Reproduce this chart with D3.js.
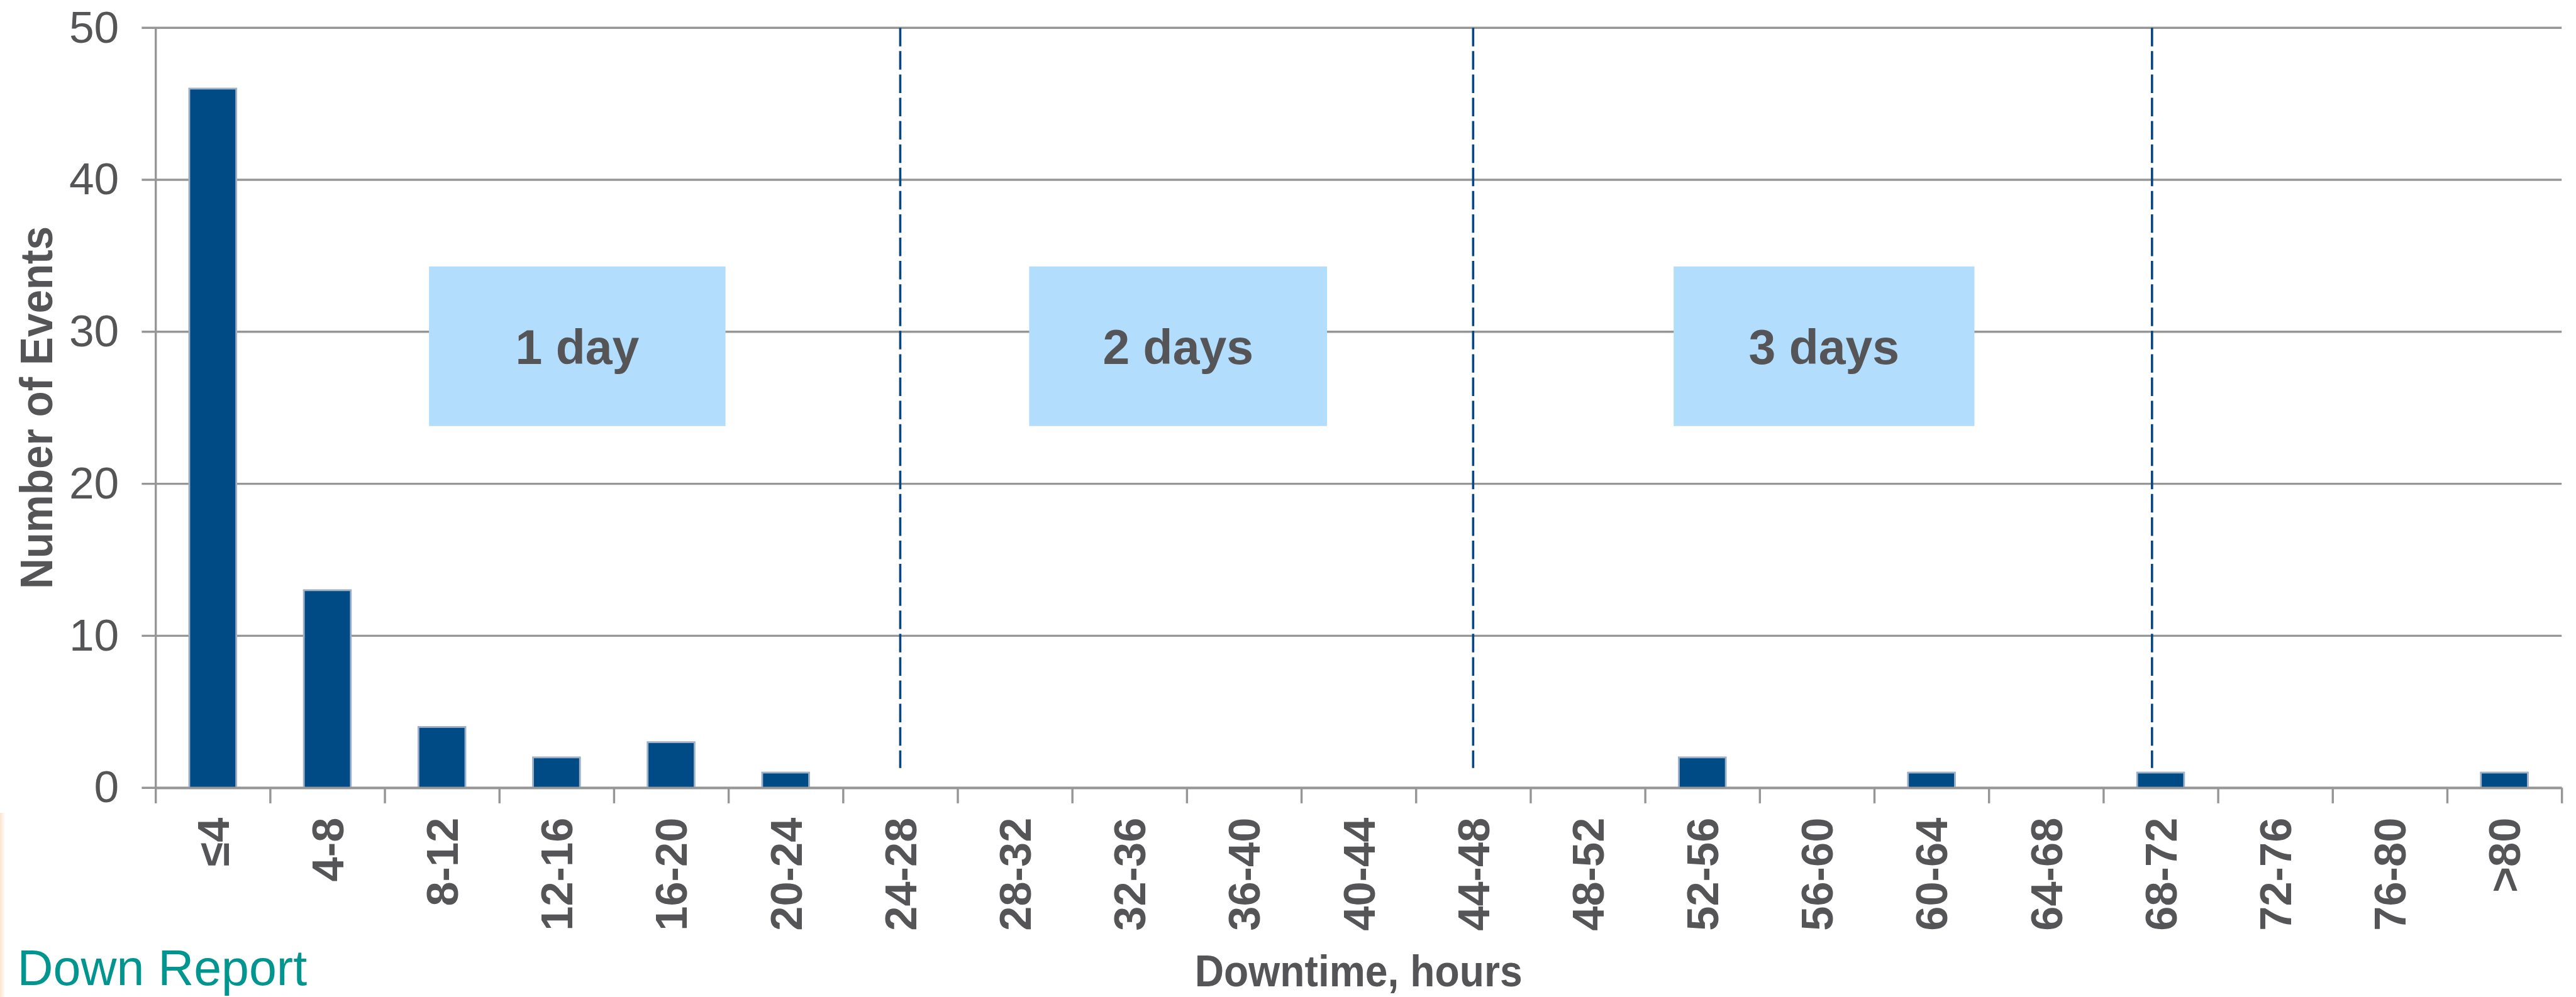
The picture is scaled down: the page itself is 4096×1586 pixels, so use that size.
<!DOCTYPE html>
<html>
<head>
<meta charset="utf-8">
<title>Number of Events by Downtime</title>
<script src="https://cdn.jsdelivr.net/npm/d3@7"></script>
<style>
  html, body { margin: 0; padding: 0; background: #fff; overflow: hidden; }
  svg { display: block; font-family: "Liberation Sans", Arial, sans-serif; }
</style>
</head>
<body>
<div id="chart"></div>
<script>
  // downtime bins (4 hour steps) and event counts
  var categories = ['≤4', '4-8', '8-12', '12-16', '16-20', '20-24', '24-28', '28-32',
    '32-36', '36-40', '40-44', '44-48', '48-52', '52-56', '56-60', '60-64',
    '64-68', '68-72', '72-76', '76-80', '>80'];
  var events = [46, 13, 4, 2, 3, 1, 0, 0, 0, 0, 0, 0, 0, 2, 0, 1, 0, 1, 0, 0, 1];
  var yTicks = [0, 10, 20, 30, 40, 50];
  var binHours = 4;

  // day markers, in hours along the axis
  var dayLabels = ['1 day', '2 days', '3 days'];
  var dayLineHours = [26, 46, 69.7];
  var dayBoxHours = [[9.55, 19.9], [30.5, 40.9], [53, 63.5]];
  var dayBoxEvents = [23.8, 34.3];

  // reference is 4308x1668, drawn at 0.95 through the viewBox
  var fullW = 4308, fullH = 1668;
  var margin = {top: 46.5, right: 24, bottom: 350, left: 260},
      width = fullW - margin.left - margin.right,
      height = fullH - margin.top - margin.bottom;

  var gray = '#969696', barColor = '#004a86', textColor = '#555557';

  var svg = d3.select('#chart')
    .append('svg')
    .attr('width', 4096)
    .attr('height', 1586)
    .attr('viewBox', '0 0 ' + fullW + ' ' + fullH);

  // faint peach strip at the left edge
  var grad = svg.append('defs').append('linearGradient')
    .attr('id', 'edge').attr('x1', 0).attr('x2', 1);
  grad.append('stop').attr('offset', 0).attr('stop-color', '#fbe4d0');
  grad.append('stop').attr('offset', 1).attr('stop-color', '#ffffff');
  svg.append('rect')
    .attr('x', 0).attr('y', 1360).attr('width', 9).attr('height', 308)
    .attr('fill', 'url(#edge)');

  var g = svg.append('g')
    .attr('transform', 'translate(' + margin.left + ',' + margin.top + ')');

  var x = d3.scaleBand()
    .domain(categories)
    .range([0, width])
    .padding(0);

  var hours = d3.scaleLinear()
    .domain([0, categories.length * binHours])
    .range([0, width]);

  var y = d3.scaleLinear()
    .domain([0, 50])
    .range([height, 0]);

  // gridlines
  g.append('g').attr('class', 'grid')
    .selectAll('line')
    .data(yTicks)
    .enter().append('line')
    .attr('x1', -23).attr('x2', width)
    .attr('y1', function(d) { return y(d); })
    .attr('y2', function(d) { return y(d); })
    .attr('stroke', gray)
    .attr('stroke-width', 3.6);

  // day boxes
  var boxes = g.append('g').attr('class', 'days')
    .selectAll('g')
    .data(dayLabels)
    .enter().append('g');
  boxes.append('rect')
    .attr('x', function(d, i) { return hours(dayBoxHours[i][0]); })
    .attr('width', function(d, i) { return hours(dayBoxHours[i][1]) - hours(dayBoxHours[i][0]); })
    .attr('y', y(dayBoxEvents[1]))
    .attr('height', y(dayBoxEvents[0]) - y(dayBoxEvents[1]))
    .attr('fill', '#b3ddfd');
  boxes.append('text')
    .attr('x', function(d, i) { return hours((dayBoxHours[i][0] + dayBoxHours[i][1]) / 2); })
    .attr('y', y((dayBoxEvents[0] + dayBoxEvents[1]) / 2))
    .attr('dy', '0.36em')
    .attr('text-anchor', 'middle')
    .attr('font-size', 81)
    .attr('font-weight', 'bold')
    .attr('fill', textColor)
    .text(function(d) { return d; });

  // dashed day lines
  g.append('g').attr('class', 'day-lines')
    .selectAll('line')
    .data(dayLineHours)
    .enter().append('line')
    .attr('x1', function(d) { return hours(d); })
    .attr('x2', function(d) { return hours(d); })
    .attr('y1', y(50))
    .attr('y2', y(1.3))
    .attr('stroke', '#074683')
    .attr('stroke-width', 3.8)
    .attr('stroke-dasharray', '31,8');

  // bars (empty bins are left out)
  var barData = categories.map(function(c, i) {
    return {cat: c, value: events[i]};
  }).filter(function(d) { return d.value > 0; });

  var barW = x.bandwidth() * 0.41;
  g.append('g').attr('class', 'bars')
    .selectAll('rect')
    .data(barData)
    .enter().append('rect')
    .attr('x', function(d) { return x(d.cat) + (x.bandwidth() - barW) / 2; })
    .attr('y', function(d) { return y(d.value); })
    .attr('width', barW)
    .attr('height', function(d) { return height - y(d.value); })
    .attr('fill', barColor)
    .attr('stroke', '#9fb0c7')
    .attr('stroke-width', 3);

  // y axis
  var yAxis = g.append('g').attr('class', 'y-axis')
    .call(d3.axisLeft(y).tickValues(yTicks).tickSize(0).tickPadding(61));
  yAxis.select('.domain')
    .attr('stroke', gray).attr('stroke-width', 3.6);
  yAxis.selectAll('text')
    .attr('font-size', 75)
    .attr('font-family', '"Liberation Sans", Arial, sans-serif')
    .attr('fill', textColor);

  // x axis, ticks on the bin edges
  var edges = d3.range(0, categories.length * binHours + 1, binHours);
  var xAxis = g.append('g').attr('class', 'x-axis')
    .attr('transform', 'translate(0,' + height + ')')
    .call(d3.axisBottom(hours).tickValues(edges).tickSize(26).tickSizeOuter(0).tickFormat(''));
  xAxis.select('.domain')
    .attr('stroke', gray).attr('stroke-width', 3.8);
  xAxis.selectAll('.tick line')
    .attr('stroke', gray).attr('stroke-width', 3.6);

  g.append('g').attr('class', 'x-labels')
    .selectAll('text')
    .data(categories)
    .enter().append('text')
    .attr('transform', function(d) {
      return 'translate(' + (x(d) + x.bandwidth() / 2) + ',' + (height + 50) + ') rotate(-90)';
    })
    .attr('dy', '0.36em')
    .attr('text-anchor', 'end')
    .attr('font-size', 74)
    .attr('font-weight', 'bold')
    .attr('fill', textColor)
    .text(function(d) { return d; });

  // axis titles
  svg.append('text')
    .attr('transform', 'translate(60,' + 682 + ') rotate(-90)')
    .attr('dy', '0.36em')
    .attr('text-anchor', 'middle')
    .attr('font-size', 76)
    .attr('font-weight', 'bold')
    .attr('fill', textColor)
    .attr('textLength', 607)
    .attr('lengthAdjust', 'spacingAndGlyphs')
    .text('Number of Events');

  svg.append('text')
    .attr('x', margin.left + width / 2)
    .attr('y', 1650)
    .attr('text-anchor', 'middle')
    .attr('font-size', 74)
    .attr('font-weight', 'bold')
    .attr('fill', textColor)
    .attr('textLength', 548)
    .attr('lengthAdjust', 'spacingAndGlyphs')
    .text('Downtime, hours');

  // footer text in the bottom-left corner
  svg.append('text')
    .attr('x', 29)
    .attr('y', 1648)
    .attr('font-size', 83)
    .attr('fill', '#00968f')
    .text('Down Report');
</script>
</body>
</html>
